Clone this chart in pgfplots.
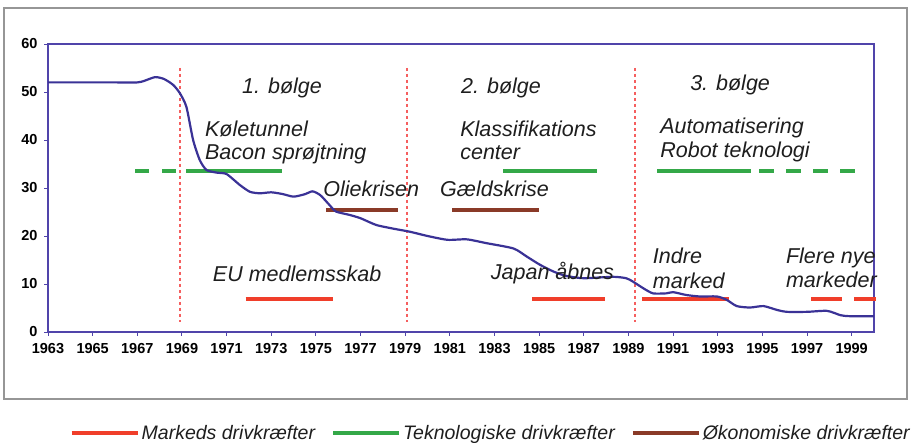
\documentclass[border=0pt]{standalone}
\usepackage{fontspec}
\setmainfont{Liberation Sans}
\usepackage{pgfplots}
\pgfplotsset{compat=1.18}
\definecolor{cCurve}{RGB}{58,50,150}
\definecolor{cAxis}{RGB}{80,68,170}
\definecolor{cGreen}{RGB}{52,168,72}
\definecolor{cRed}{RGB}{240,62,42}
\definecolor{cBrown}{RGB}{138,58,40}
\definecolor{cFrame}{RGB}{150,150,150}
\definecolor{cVline}{RGB}{245,95,95}
\definecolor{cText}{RGB}{30,30,30}
\newcommand{\lbl}{\fontsize{21.5}{22}\selectfont\itshape}
\begin{document}
\begin{tikzpicture}
\useasboundingbox (0pt,0pt) rectangle (924pt,443pt);
\draw[cFrame, line width=1.4pt] (4pt,44pt) rectangle (907pt,435pt);
\begin{axis}[
  at={(48pt,111pt)}, anchor=south west,
  scale only axis, width=826pt, height=288pt,
  xmin=1963, xmax=2000, ymin=0, ymax=60,
  xtick={1963,1965,...,1999}, ytick={0,10,...,60},
  /pgf/number format/1000 sep={},
  /pgf/number format/assume math mode=true,
  tick label style={font=\fontsize{14.5}{15}\selectfont\bfseries, text=black},
  xticklabel style={yshift=-4pt},
  yticklabel style={xshift=-3pt},
  tick align=outside, major tick length=4pt,
  every tick/.style={cAxis, line width=0.9pt},
  xtick pos=bottom, ytick pos=left,
  axis line style={cAxis, line width=1.4pt},
  clip=false,
  legend style={at={(0.536,-0.351)}, anchor=center, draw=none, fill=none,
    font=\fontsize{19.5}{20}\selectfont\itshape, text=cText,
    /tikz/every even column/.append style={column sep=14pt}},
  legend columns=3,
  legend image code/.code={\draw (0pt,0pt) -- (66pt,0pt);},
]
\addlegendimage{cRed, line width=4pt}
\addlegendentry{Markeds drivkræfter}
\addlegendimage{cGreen, line width=4pt}
\addlegendentry{Teknologiske drivkræfter}
\addlegendimage{cBrown, line width=4pt}
\addlegendentry{Økonomiske drivkræfter}

% wave separators
\addplot[forget plot, cVline, line width=1.3pt, dash pattern=on 3pt off 3pt] coordinates {(1968.917,55) (1968.917,2)};
\addplot[forget plot, cVline, line width=1.3pt, dash pattern=on 3pt off 3pt] coordinates {(1979.085,55) (1979.085,2)};
\addplot[forget plot, cVline, line width=1.3pt, dash pattern=on 3pt off 3pt] coordinates {(1989.3,55) (1989.3,2)};

% teknologiske
\addplot[forget plot, cGreen, line width=4pt, dash pattern=on 14pt off 13pt] coordinates {(1966.9,33.6) (1969.2,33.6)};
\addplot[forget plot, cGreen, line width=4pt] coordinates {(1969.2,33.6) (1973.5,33.6)};
\addplot[forget plot, cGreen, line width=4pt] coordinates {(1983.4,33.6) (1987.6,33.6)};
\addplot[forget plot, cGreen, line width=4pt] coordinates {(1990.3,33.6) (1994.5,33.6)};
\addplot[forget plot, cGreen, line width=4pt, dash pattern=on 15pt off 12pt] coordinates {(1994.85,33.6) (1999.2,33.6)};

% oekonomiske
\addplot[forget plot, cBrown, line width=4pt] coordinates {(1975.45,25.4) (1978.7,25.4)};
\addplot[forget plot, cBrown, line width=4pt] coordinates {(1981.1,25.4) (1985.0,25.4)};

% markeds
\addplot[forget plot, cRed, line width=4pt] coordinates {(1971.85,6.8) (1975.75,6.8)};
\addplot[forget plot, cRed, line width=4pt] coordinates {(1984.7,6.8) (1987.95,6.8)};
\addplot[forget plot, cRed, line width=4pt] coordinates {(1989.6,6.9) (1993.5,6.9)};
\addplot[forget plot, cRed, line width=4pt, dash pattern=on 31pt off 12pt] coordinates {(1997.2,6.9) (2000.1,6.9)};

% main curve
\addplot[forget plot, cCurve, line width=2.2pt, smooth, tension=0.4] coordinates {
(1963,52) (1964,52) (1965,52) (1966,52) (1967,52) (1967.3,52.3) (1967.8,53.1)
(1968.2,52.7) (1968.6,51.5) (1968.9,49.8) (1969.2,46.9) (1969.5,40) (1969.8,35.8)
(1970.1,33.75) (1970.56,33.2) (1971.0,32.9) (1971.6,30.6) (1972.05,29.2) (1972.5,28.9)
(1973,29.1) (1973.5,28.75) (1974,28.2) (1974.5,28.7) (1974.85,29.3) (1975.2,28.5)
(1975.6,26.5) (1975.9,25.1) (1976.5,24.4) (1977,23.7) (1977.7,22.3) (1978.5,21.5)
(1979.2,20.9) (1980,20.0) (1980.9,19.2) (1981.76,19.3) (1982.65,18.5) (1983.85,17.4)
(1984.45,15.7) (1985.04,14.0) (1985.64,12.6) (1986.2,11.7) (1987,11.2) (1988.3,11.5)
(1988.9,11.2) (1989.2,10.5) (1989.67,9.1) (1990.1,8.05) (1990.7,8.05) (1991,8.3)
(1991.6,7.7) (1992.2,7.4) (1992.96,7.4) (1993.4,6.7) (1993.85,5.4) (1994.45,5.1)
(1995.05,5.4) (1995.65,4.6) (1996.1,4.2) (1997,4.2) (1997.9,4.4) (1998.5,3.5)
(1998.9,3.3) (2000,3.3)};

% annotations
\begin{scope}[every node/.style={anchor=base west, inner sep=0pt, text=cText, font=\lbl}]
\node at (axis cs:1971.69,49.7) {1. bølge};
\node at (axis cs:1981.5,49.6) {2. bølge};
\node at (axis cs:1991.76,50.3) {3. bølge};
\node at (axis cs:1970.03,40.8) {Køletunnel};
\node at (axis cs:1970.03,36.0) {Bacon sprøjtning};
\node at (axis cs:1981.46,40.8) {Klassifikations};
\node at (axis cs:1981.46,36.0) {center};
\node at (axis cs:1990.42,41.25) {Automatisering};
\node at (axis cs:1990.42,36.4) {Robot teknologi};
\node at (axis cs:1975.33,28.3) {Oliekrisen};
\node at (axis cs:1980.56,28.3) {Gældskrise};
\node at (axis cs:1970.38,10.5) {EU medlemsskab};
\node at (axis cs:1982.83,11.0) {Japan åbnes};
\node at (axis cs:1990.09,14.2) {Indre};
\node at (axis cs:1990.09,9.1) {marked};
\node at (axis cs:1996.05,14.3) {Flere nye};
\node at (axis cs:1996.05,9.3) {markeder};
\end{scope}
\end{axis}
\end{tikzpicture}
\end{document}
